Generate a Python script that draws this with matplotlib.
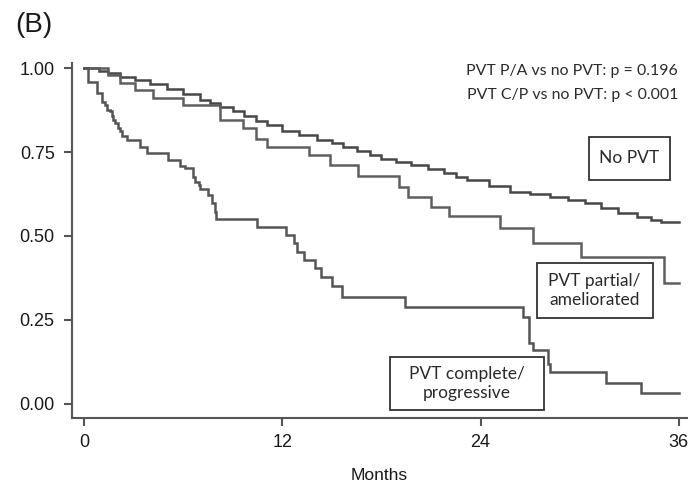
import matplotlib
matplotlib.use("Agg")
import matplotlib.pyplot as plt
from matplotlib.patches import Rectangle

# ---- data ----
no_pvt_t = [0, 0.9, 1.45, 2.2, 3.1, 4.0, 5.0, 6.0, 7.0, 7.6, 8.2, 9.0, 9.7, 10.4, 11.1,
            12.0, 13.0, 14.1, 15.0, 15.7, 16.5, 17.3, 18.0, 18.9, 19.8, 20.8, 21.8, 22.5,
            23.2, 24.5, 25.8, 27.0, 28.2, 29.3, 30.3, 31.3, 32.3, 33.5, 34.3, 34.9]
no_pvt_s = [1.0, 0.99, 0.984, 0.974, 0.964, 0.951, 0.937, 0.922, 0.905, 0.895, 0.885,
            0.871, 0.856, 0.842, 0.829, 0.812, 0.80, 0.786, 0.777, 0.766, 0.753, 0.74,
            0.728, 0.72, 0.711, 0.70, 0.687, 0.677, 0.667, 0.65, 0.632, 0.625, 0.617,
            0.607, 0.597, 0.583, 0.567, 0.556, 0.548, 0.541]

pa_t = [0, 1.45, 2.2, 3.1, 4.2, 6.0, 8.2, 9.6, 10.4, 11.1, 13.6, 14.9, 16.6, 19.05,
        19.6, 21.0, 22.1, 25.2, 27.2, 30.1, 35.1]
pa_s = [1.0, 0.979, 0.954, 0.935, 0.91, 0.89, 0.845, 0.82, 0.79, 0.766, 0.741, 0.711,
        0.679, 0.647, 0.617, 0.587, 0.558, 0.523, 0.48, 0.437, 0.361]

cp_t = [0, 0.25, 0.77, 1.07, 1.27, 1.37, 1.58, 1.68, 1.78, 1.88, 2.08, 2.18, 2.28, 2.59,
        3.40, 3.80, 5.11, 5.82, 6.12, 6.62, 6.73, 6.93, 7.03, 7.52, 7.74, 7.94, 8.0,
        10.48, 12.2, 12.69, 12.89, 13.29, 14.0, 14.36, 15.0, 15.6, 19.4, 26.55, 26.95,
        27.2, 28.1, 28.2, 31.6, 33.7]
cp_s = [1.0, 0.959, 0.926, 0.899, 0.890, 0.876, 0.871, 0.856, 0.846, 0.836, 0.821,
        0.812, 0.797, 0.786, 0.766, 0.746, 0.726, 0.708, 0.701, 0.677, 0.662, 0.651,
        0.641, 0.622, 0.597, 0.572, 0.551, 0.527, 0.503, 0.478, 0.453, 0.429, 0.404,
        0.378, 0.35, 0.318, 0.289, 0.26, 0.18, 0.161, 0.12, 0.096, 0.0625, 0.033]

follow_up_end = 36
x_ticks = [0, 12, 24, 36]
y_ticks = [0.00, 0.25, 0.50, 0.75, 1.00]
y_tick_labels = ["0.00", "0.25", "0.50", "0.75", "1.00"]
curve_labels = ["No PVT", "PVT partial/\nameliorated", "PVT complete/\nprogressive"]
pvalue_lines = ["PVT P/A vs no PVT: p = 0.196", "PVT C/P vs no PVT: p < 0.001"]

# ---- figure ----
W, H = 690, 493
fig = plt.figure(figsize=(W / 100, H / 100), dpi=100)
ax = fig.add_axes([72 / W, (H - 418) / H, (687 - 72) / W, (418 - 63) / H])

tick_font = ["Liberation Sans", "DejaVu Sans"]
box_font = ["Lato", "DejaVu Sans"]
txt_col = "#1a1a1a"

def km(t, s, color):
    ax.step(list(t) + [follow_up_end], list(s) + [s[-1]], where="post",
            color=color, lw=1.8, solid_joinstyle="miter")

km(no_pvt_t, no_pvt_s, "#474747")
km(pa_t, pa_s, "#5e5e5e")
km(cp_t, cp_s, "#555555")

ax.set_xlim(-0.73, 36.5)
ax.set_ylim(-0.042, 1.015)

for side in ("top", "right"):
    ax.spines[side].set_visible(False)
for side in ("left", "bottom"):
    ax.spines[side].set_color("#555555")
    ax.spines[side].set_linewidth(1.5)

ax.set_xticks(x_ticks)
ax.set_xticklabels([str(v) for v in x_ticks], fontfamily=tick_font, fontsize=13,
                   fontweight="medium")
ax.set_yticks(y_ticks)
ax.set_yticklabels(y_tick_labels, fontfamily=tick_font, fontsize=13, fontweight="medium")
ax.tick_params(axis="both", direction="out", length=5.5, width=1.5, color="#555555",
               labelcolor=txt_col)
ax.tick_params(axis="y", pad=7)
ax.tick_params(axis="x", pad=6)
ax.set_xlabel("Months", fontfamily=tick_font, fontsize=12.5, color=txt_col, labelpad=12)

# labelled boxes (data coords)
boxes = [((30.55, 0.667), 4.9, 0.128, (32.97, 0.732)),
         ((27.39, 0.256), 7.03, 0.164, (30.9, 0.338)),
         ((18.55, -0.018), 9.27, 0.158, (23.18, 0.061))]
for (xy, w, h, c), lab in zip(boxes, curve_labels):
    ax.add_patch(Rectangle(xy, w, h, facecolor="white", edgecolor="#333333", lw=1.3,
                           zorder=3, clip_on=False))
    ax.text(c[0], c[1], lab, ha="center", va="center", fontsize=12.5, family=box_font,
            color="#2a2a2a", zorder=4, linespacing=1.2)

fig.text(678 / W, 1 - 71 / H, pvalue_lines[0], ha="right", va="center",
         fontsize=11.4, family=box_font, color="#2a2a2a")
fig.text(678 / W, 1 - 95 / H, pvalue_lines[1], ha="right", va="center",
         fontsize=11.4, family=box_font, color="#2a2a2a")

fig.text(34 / W, 1 - 25 / H, "(B)", ha="center", va="center", fontsize=20,
         family=tick_font, color=txt_col)

fig.savefig("out.png", dpi=100)
